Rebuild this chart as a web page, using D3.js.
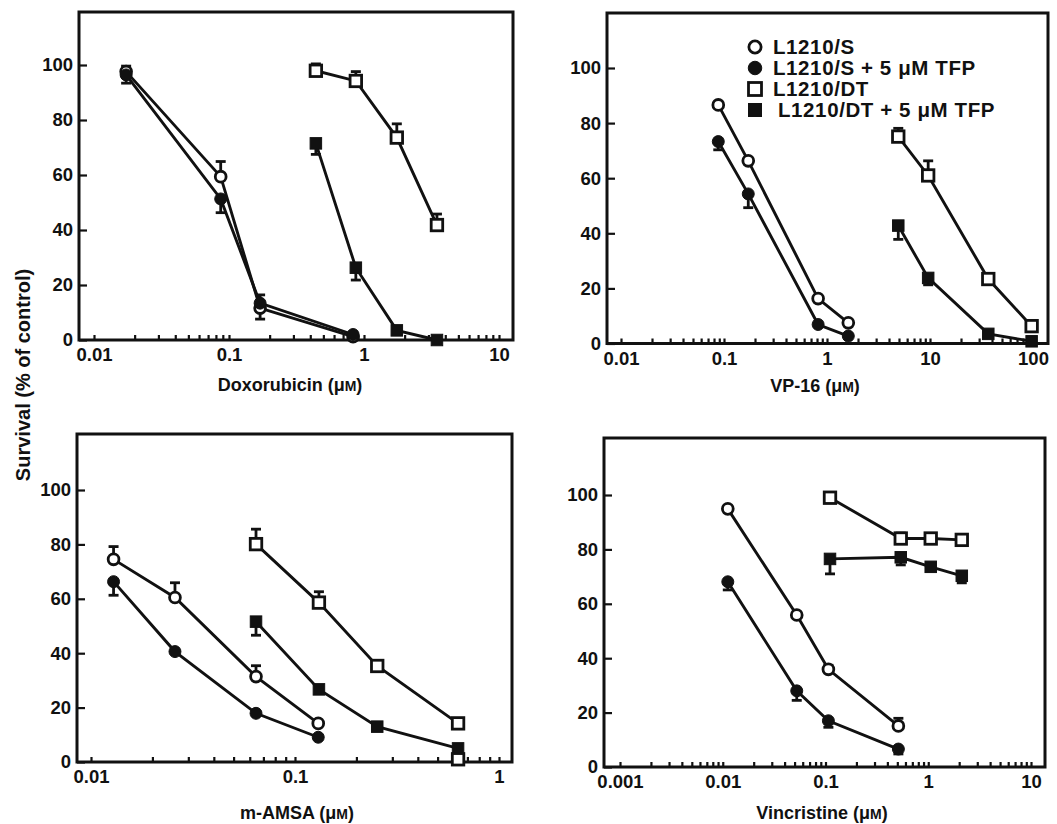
<!DOCTYPE html>
<html>
<head>
<meta charset="utf-8">
<script src="https://cdn.jsdelivr.net/npm/d3@7"></script>
<style>
  body { margin: 0; background: #fff; }
  text { font-family: "Liberation Sans", Arial, Helvetica, sans-serif; font-weight: bold; fill: #111; }
  .tick text { font-size: 18.5px; }
</style>
</head>
<body>
<div id="chart"></div>
<script>
// series: [dose (uM), survival (% of control), error bar (+ up / - down, 0 = none)]
const legendLabels = ['L1210/S', 'L1210/S + 5 \u03bcM TFP', 'L1210/DT', 'L1210/DT + 5 \u03bcM TFP']
const markerTypes = ['openCircle', 'filledCircle', 'openSquare', 'filledSquare']
const yTicks = [0, 20, 40, 60, 80, 100]

const doxS = [[0.0173, 97.6, 2], [0.0868, 59.4, 5.5], [0.17, 11.6, -4], [0.83, 1.2, 0]]
const doxSTFP = [[0.0173, 96.4, -3], [0.0868, 51.3, -5], [0.17, 13.4, 3], [0.83, 2, 0]]
const doxDT = [[0.44, 97.9, 2.5], [0.87, 94.2, 3.4], [1.75, 73.6, 5], [3.47, 41.8, 4]]
const doxDTTFP = [[0.44, 71.5, -4], [0.87, 26.3, -4.5], [1.75, 3.5, 0], [3.47, 0, 0]]
const doxTicks = [0.01, 0.1, 1, 10]

const vpS = [[0.088, 86.6, 0], [0.172, 66.3, 0], [0.82, 16.3, 0], [1.61, 7.5, 0]]
const vpSTFP = [[0.088, 73.3, -3], [0.172, 54.3, -5], [0.82, 6.9, 0], [1.61, 2.7, 0]]
const vpDT = [[4.92, 75.1, 3], [9.6, 61, 5.3], [36.8, 23.4, 0], [97, 6.3, 0]]
const vpDTTFP = [[4.92, 42.8, -5], [9.6, 23.8, -2.5], [36.8, 3.5, 0], [97, 0.8, 0]]
const vpTicks = [0.01, 0.1, 1, 10, 100]

const amsaS = [[0.0129, 74.5, 4.7], [0.0258, 60.5, 5.4], [0.0644, 31.4, 4], [0.13, 14.2, 0]]
const amsaSTFP = [[0.0129, 66.3, -5], [0.0258, 40.6, 0], [0.0644, 17.9, 0], [0.13, 9.1, 0]]
const amsaDT = [[0.0644, 80.1, 5.5], [0.131, 58.6, 4], [0.253, 35.3, 0], [0.63, 14.2, 0]]
const amsaDTTFP = [[0.0644, 51.6, -5], [0.131, 26.7, 0], [0.253, 13, 0], [0.63, 5, 0]]
const amsaExtra = [[0.63, 1, 0]]
const amsaTicks = [0.01, 0.1, 1]

const vinS = [[0.0112, 94.9, 0], [0.0525, 55.9, 0], [0.1067, 35.9, 1.5], [0.512, 15.1, 2.8]]
const vinSTFP = [[0.0112, 68.1, -3], [0.0525, 28, -3.5], [0.1067, 17, -2.4], [0.512, 6.6, -1.8]]
const vinDT = [[0.1106, 99, 0], [0.54, 84, 2], [1.057, 84, 0], [2.12, 83.5, 0]]
const vinDTTFP = [[0.1106, 76.5, -5.5], [0.54, 77.1, -2.8], [1.057, 73.6, -1.5], [2.12, 70.3, -2.6]]
const vinTicks = [0.001, 0.01, 0.1, 1, 10]

const panels = [
  { drug: 'Doxorubicin', l: 79, r: 513, t: 12, b: 340, y100: 65, xd: [0.01, 10], xr: [94, 499],
    ticks: doxTicks, series: [doxS, doxSTFP, doxDT, doxDTTFP], extra: [], tx: 290, ty: 391 },
  { drug: 'VP-16', l: 607, r: 1048, t: 13, b: 343.5, y100: 68, xd: [0.01, 100], xr: [621, 1033],
    ticks: vpTicks, series: [vpS, vpSTFP, vpDT, vpDTTFP], extra: [], tx: 815, ty: 392 },
  { drug: 'm-AMSA', l: 77, r: 512, t: 434, b: 762, y100: 490, xd: [0.01, 1], xr: [91, 499],
    ticks: amsaTicks, series: [amsaS, amsaSTFP, amsaDT, amsaDTTFP], extra: amsaExtra, tx: 297, ty: 819 },
  { drug: 'Vincristine', l: 604, r: 1045, t: 438, b: 767, y100: 495, xd: [0.001, 10], xr: [620, 1031],
    ticks: vinTicks, series: [vinS, vinSTFP, vinDT, vinDTTFP], extra: [], tx: 822, ty: 819 }
]

const width = 1057
const height = 824
const svg = d3.select('#chart').append('svg').attr('width', width).attr('height', height)

function drawMarker(g, type, cx, cy, size) {
  const open = type.indexOf('open') === 0
  if (type.indexOf('Circle') > 0) {
    g.append('circle')
      .attr('cx', cx).attr('cy', cy).attr('r', open ? size * 0.47 : size * 0.52)
      .attr('fill', open ? '#fff' : '#111')
      .attr('stroke', '#111').attr('stroke-width', open ? 2.8 : 1)
  } else {
    g.append('rect')
      .attr('x', cx - size / 2).attr('y', cy - size / 2)
      .attr('width', size).attr('height', size)
      .attr('fill', open ? '#fff' : '#111')
      .attr('stroke', '#111').attr('stroke-width', open ? 2.8 : 1)
  }
}

panels.forEach(function(p) {
  const xScale = d3.scaleLog().domain(p.xd).range(p.xr)
  const yScale = d3.scaleLinear().domain([0, 100]).range([p.b, p.y100])
  const g = svg.append('g')

  // x axis: minor ticks everywhere, labels on decades
  const isDecade = function(d) {
    return p.ticks.some(function(t) { return Math.abs(t - d) / t < 1e-6 })
  }
  g.append('g')
    .attr('transform', 'translate(0,' + p.b + ')')
    .call(
      d3.axisBottom(xScale)
        .tickValues(xScale.ticks())
        .tickSizeInner(-5)
        .tickSizeOuter(0)
        .tickPadding(8)
        .tickFormat(function(d) { return isDecade(d) ? String(d) : '' })
    )
    .call(function(a) { a.select('.domain').remove() })
    .call(function(a) { a.selectAll('.tick line').attr('stroke', '#111').attr('stroke-width', 2.2) })

  g.append('g')
    .attr('transform', 'translate(' + p.l + ',0)')
    .call(
      d3.axisLeft(yScale)
        .tickValues(yTicks)
        .tickSizeInner(-8)
        .tickSizeOuter(0)
        .tickPadding(6)
    )
    .call(function(a) { a.select('.domain').remove() })
    .call(function(a) { a.selectAll('.tick line').attr('stroke', '#111').attr('stroke-width', 2.2) })

  // frame
  g.append('rect')
    .attr('x', p.l).attr('y', p.t)
    .attr('width', p.r - p.l).attr('height', p.b - p.t)
    .attr('fill', 'none').attr('stroke', '#111').attr('stroke-width', 3)

  const line = d3.line()
    .x(function(d) { return xScale(d[0]) })
    .y(function(d) { return yScale(d[1]) })

  p.series.forEach(function(s) {
    g.append('path')
      .attr('d', line(s))
      .attr('fill', 'none').attr('stroke', '#111').attr('stroke-width', 2.9)
  })

  // error bars
  p.series.forEach(function(s) {
    s.filter(function(d) { return d[2] !== 0 }).forEach(function(d) {
      const cx = xScale(d[0])
      const y0 = yScale(d[1])
      const y1 = yScale(d[1] + d[2])
      g.append('line').attr('x1', cx).attr('x2', cx).attr('y1', y0).attr('y2', y1)
        .attr('stroke', '#111').attr('stroke-width', 2.8)
      g.append('line').attr('x1', cx - 5).attr('x2', cx + 5).attr('y1', y1).attr('y2', y1)
        .attr('stroke', '#111').attr('stroke-width', 2.8)
    })
  })

  p.series.forEach(function(s, i) {
    s.forEach(function(d) {
      drawMarker(g, markerTypes[i], xScale(d[0]), yScale(d[1]), 11.5)
    })
  })
  p.extra.forEach(function(d) {
    drawMarker(g, 'openSquare', xScale(d[0]), yScale(d[1]), 11.5)
  })

  // axis title with small-cap M
  const title = g.append('text')
    .attr('x', p.tx).attr('y', p.ty)
    .attr('text-anchor', 'middle')
    .style('font-size', '18px')
  title.append('tspan').text(p.drug + ' (\u03bc')
  title.append('tspan').style('font-size', '14px').text('M')
  title.append('tspan').text(')')
})

// y label
svg.append('text')
  .attr('transform', 'translate(30,375) rotate(-90)')
  .attr('text-anchor', 'middle')
  .style('font-size', '20px')
  .text('Survival (% of control)')

// legend in VP-16 panel
const legend = svg.append('g').attr('transform', 'translate(755,47)')
legendLabels.forEach(function(label, i) {
  const row = legend.append('g').attr('transform', 'translate(0,' + (i * 21) + ')')
  drawMarker(row, markerTypes[i], 0, 0, 13)
  row.append('text')
    .attr('x', i === 3 ? 23 : 18).attr('y', 0).attr('dy', '0.36em')
    .style('font-size', '20.5px')
    .style('letter-spacing', '0.6px')
    .text(label)
})
</script>
</body>
</html>
